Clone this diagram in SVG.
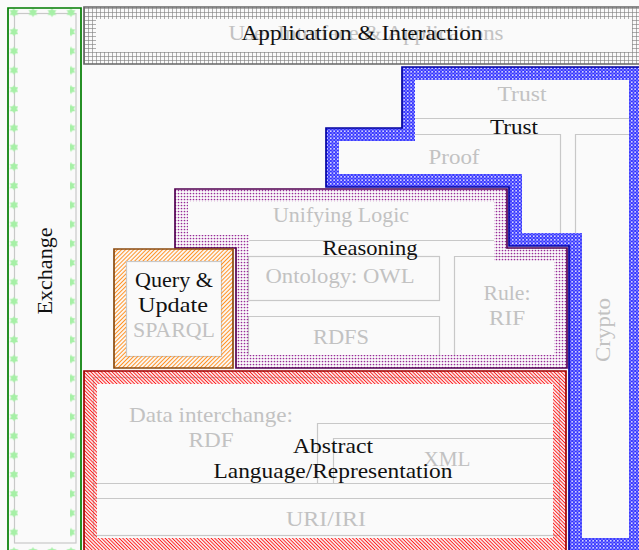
<svg xmlns="http://www.w3.org/2000/svg" width="639" height="550" viewBox="0 0 639 550">
<style>
text{font-family:"Liberation Serif","DejaVu Serif",serif;font-size:21px;text-anchor:middle}
.g{fill:#c2c2c2}
.k{fill:#111}
.ln{fill:none;stroke:#c8c8c8;stroke-width:1.2}
.band{fill-rule:evenodd}
.edge{fill:none;stroke-width:1.7}
</style>
<defs>
<pattern id="pGrid" patternUnits="userSpaceOnUse" width="4" height="4">
<path d="M0,0.4 H4 M0.4,0 V4" stroke="#7f7f7f" stroke-width="0.7" fill="none"/>
</pattern>
<pattern id="pStar" patternUnits="userSpaceOnUse" x="9.5" y="8" width="19" height="19.25">
<polygon points="4.5,0 8.8,7 0.2,7" fill="#a6f0a6"/>
<polygon points="4.5,9.2 8.8,2.2 0.2,2.2" fill="#a6f0a6"/>
</pattern>
<pattern id="pBlue" patternUnits="userSpaceOnUse" width="3.5" height="3.5">
<rect width="3.5" height="3.5" fill="#ffffff"/>
<circle cx="1.75" cy="1.75" r="1.35" fill="none" stroke="#2a2aff" stroke-width="0.95"/>
<circle cx="0" cy="0" r="0.65" fill="#2a2aff"/>
<circle cx="3.5" cy="0" r="0.65" fill="#2a2aff"/>
<circle cx="0" cy="3.5" r="0.65" fill="#2a2aff"/>
<circle cx="3.5" cy="3.5" r="0.65" fill="#2a2aff"/>
</pattern>
<pattern id="pDots" patternUnits="userSpaceOnUse" width="3" height="3">
<circle cx="1.5" cy="1.5" r="0.85" fill="#982a98"/>
</pattern>
<pattern id="pRed" patternUnits="userSpaceOnUse" width="2.5" height="8" patternTransform="rotate(-45)">
<path d="M1.25,0 V8" stroke="#ff1a1a" stroke-width="1"/>
</pattern>
<pattern id="pOrange" patternUnits="userSpaceOnUse" width="2.9" height="8" patternTransform="rotate(45)">
<path d="M1.45,0 V8" stroke="#ff9326" stroke-width="1.05"/>
</pattern>
</defs>

<rect width="639" height="550" fill="#fafafa"/>

<g id="layers">
<g id="layer-ui"><text class="g" x="366" y="40" textLength="275" lengthAdjust="spacingAndGlyphs">User Interface &amp; Applications</text></g>
<g id="layer-trust"><path class="ln" d="M415,118.5 H629"/><text class="g" x="522" y="101" textLength="49" lengthAdjust="spacingAndGlyphs">Trust</text></g>
<g id="layer-proof"><path class="ln" d="M415,134.5 H560.5 V233"/><text class="g" x="454" y="164" textLength="51" lengthAdjust="spacingAndGlyphs">Proof</text></g>
<g id="layer-crypto"><path class="ln" d="M575.5,233 V134.5 H629"/><text class="g" transform="translate(610,330) rotate(-90)" x="0" y="0" textLength="64" lengthAdjust="spacingAndGlyphs">Crypto</text></g>
<g id="layer-logic"><path class="ln" d="M249,240.5 H494"/><text class="g" x="341" y="222" textLength="136" lengthAdjust="spacingAndGlyphs">Unifying Logic</text></g>
<g id="layer-owl"><rect class="ln" x="248.5" y="256.5" width="191" height="44"/><text class="g" x="340" y="283" textLength="149" lengthAdjust="spacingAndGlyphs">Ontology: OWL</text></g>
<g id="layer-rdfs"><path class="ln" d="M248.5,355 V316.5 H439.5 V355"/><text class="g" x="341" y="344" textLength="56" lengthAdjust="spacingAndGlyphs">RDFS</text></g>
<g id="layer-rif"><path class="ln" d="M454.5,355 V256.5 H554"/><text class="g" x="507" y="300" textLength="47" lengthAdjust="spacingAndGlyphs">Rule:</text><text class="g" x="507" y="325" textLength="36" lengthAdjust="spacingAndGlyphs">RIF</text></g>
<g id="layer-sparql"><rect class="ln" x="126.5" y="261.5" width="95" height="95"/><text class="g" x="174" y="337" textLength="82" lengthAdjust="spacingAndGlyphs">SPARQL</text></g>
<g id="layer-rdf"><rect class="ln" x="93.5" y="377.5" width="466" height="158"/><path class="ln" d="M93,483.5 H559 M317.5,483 V423.5 H559 M333.5,483 V438.5 H559"/><text class="g" x="211" y="422" textLength="164" lengthAdjust="spacingAndGlyphs">Data interchange:</text><text class="g" x="211" y="447" textLength="45" lengthAdjust="spacingAndGlyphs">RDF</text><text class="g" x="447" y="466" textLength="47" lengthAdjust="spacingAndGlyphs">XML</text></g>
<g id="layer-uri"><path class="ln" d="M93,498.5 H559"/><text class="g" x="326" y="526" textLength="80" lengthAdjust="spacingAndGlyphs">URI/IRI</text></g>
<g id="layer-exchange"><rect class="ln" x="14.5" y="13.5" width="61.5" height="529.5"/></g>
</g>

<g id="connectors"></g>

<g id="exchange">
<path class="band" fill="url(#pStar)" d="M8,8 H81 V551 H8 Z M18,18 V541 H70 V18 Z"/>
<path class="edge" stroke="#007c00" d="M8,8 H81 V551 H8 Z"/>
<text class="k" transform="translate(52,271) rotate(-90)" x="0" y="0" textLength="87" lengthAdjust="spacingAndGlyphs">Exchange</text>
</g>

<g id="application-interaction">
<path class="band" fill="url(#pGrid)" d="M84,7 H644 V64 H84 Z M96,19 V52 H632 V19 Z"/>
<path class="edge" stroke="#666666" d="M84,7 H644 V64 H84 Z"/>
<text class="k" x="362" y="40" textLength="241" lengthAdjust="spacingAndGlyphs">Application &amp; Interaction</text>
</g>

<g id="trust">
<path class="band" fill="url(#pBlue)" d="M402,67 H642 V551 H569 V246 H509 V187 H326 V128 H402 Z M415,80 V141 H339 V174 H522 V233 H582 V538 H629 V80 Z"/>
<path class="edge" stroke="#0000a0" d="M402,67 H642 V551 H569 V246 H509 V187 H326 V128 H402 Z"/>
<text class="k" x="514" y="134" textLength="48" lengthAdjust="spacingAndGlyphs">Trust</text>
</g>

<g id="reasoning">
<path class="band" fill="url(#pDots)" d="M175,189 H507 V248 H567 V368 H236 V248 H175 Z M188,202 V235 H249 V355 H554 V261 H494 V202 Z"/>
<path class="edge" stroke="#520052" d="M175,189 H507 V248 H567 V368 H236 V248 H175 Z"/>
<text class="k" x="370" y="255" textLength="95" lengthAdjust="spacingAndGlyphs">Reasoning</text>
</g>

<g id="query-update">
<path class="band" fill="url(#pOrange)" d="M114,249 H233 V368 H114 Z M126,261 V356 H221 V261 Z"/>
<path class="edge" stroke="#8a4b10" d="M114,249 H233 V368 H114 Z"/>
<text class="k" x="174" y="287" textLength="78" lengthAdjust="spacingAndGlyphs">Query &amp;</text>
<text class="k" x="173" y="312" textLength="70" lengthAdjust="spacingAndGlyphs">Update</text>
</g>

<g id="abstract-language">
<path class="band" fill="url(#pRed)" d="M84,371 H566 V551 H84 Z M97,384 V538 H553 V384 Z"/>
<path class="edge" stroke="#a00000" d="M84,371 H566 V551 H84 Z"/>
<text class="k" x="333" y="453" textLength="80" lengthAdjust="spacingAndGlyphs">Abstract</text>
<text class="k" x="333" y="478" textLength="239" lengthAdjust="spacingAndGlyphs">Language/Representation</text>
</g>
</svg>
